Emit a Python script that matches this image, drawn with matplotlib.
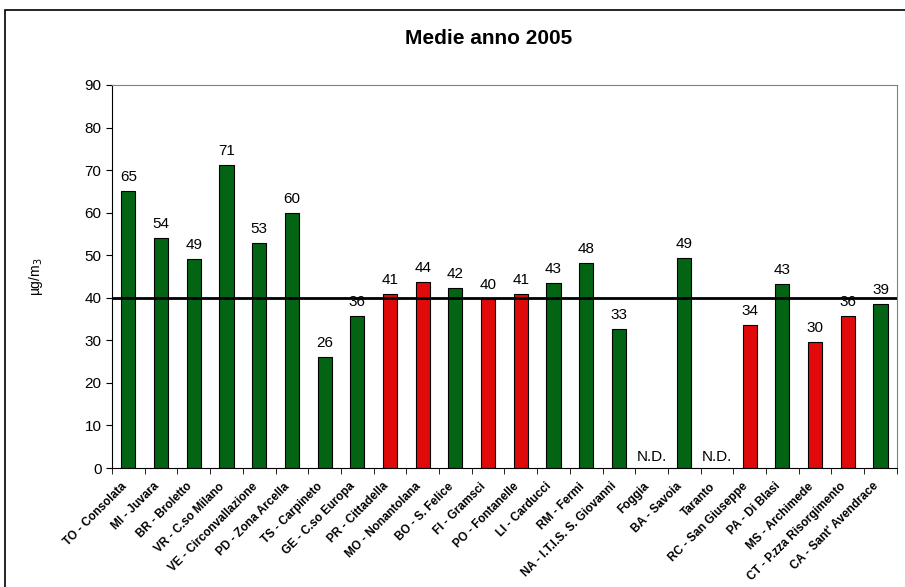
import numpy as np
import matplotlib.pyplot as plt
import matplotlib.transforms as mtransforms
from matplotlib.patches import Rectangle

plt.rcParams['font.family'] = ['Liberation Sans', 'DejaVu Sans']

stazioni = ["TO - Consolata", "MI - Juvara", "BR - Broletto", "VR - C.so Milano",
            "VE - Circonvallazione", "PD - Zona Arcella", "TS - Carpineto",
            "GE - C.so Europa", "PR - Cittadella", "MO - Nonantolana", "BO - S. Felice",
            "FI - Gramsci", "PO - Fontanelle", "LI - Carducci", "RM - Fermi",
            "NA - I.T.I.S. S. Giovanni", "Foggia", "BA - Savoia", "Taranto",
            "RC - San Giuseppe", "PA - Di Blasi", "MS - Archimede",
            "CT - P.zza Risorgimento", "CA - Sant' Avendrace"]
medie = [65.0, 54.0, 49.2, 71.2, 52.8, 60.0, 26.2, 35.7, 40.8, 43.8, 42.2, 39.8,
         41.0, 43.4, 48.2, 32.6, None, 49.3, None, 33.6, 43.2, 29.6, 35.8, 38.6]
etichette = ["65", "54", "49", "71", "53", "60", "26", "36", "41", "44", "42", "40",
             "41", "43", "48", "33", "N.D.", "49", "N.D.", "34", "43", "30", "36", "39"]
rosse = ["PR - Cittadella", "MO - Nonantolana", "FI - Gramsci", "PO - Fontanelle",
         "RC - San Giuseppe", "MS - Archimede", "CT - P.zza Risorgimento"]
limite = 40

verde = '#036414'
rosso = '#E00A0A'

fig = plt.figure(figsize=(9.05, 5.87), dpi=100)
ax = fig.add_axes([0.1238, 0.2027, 0.8672, 0.6525])

x = np.arange(len(stazioni))
for i, (s, v) in enumerate(zip(stazioni, medie)):
    if v is None:
        ax.text(i, 1.0, etichette[i], ha='center', va='bottom', fontsize=11)
        continue
    col = rosso if s in rosse else verde
    ax.bar(i, v, width=0.43, color=col, edgecolor='black', linewidth=0.8, zorder=2)
    ax.annotate(etichette[i], (i, v), xytext=(0, 5), textcoords='offset points',
                ha='center', va='bottom', fontsize=11)

ax.axhline(limite, color='black', linewidth=2, zorder=3)

ax.set_xlim(-0.5, len(stazioni) - 0.5)
ax.set_ylim(0, 90)
ax.set_yticks(range(0, 91, 10))
ax.tick_params(axis='y', labelsize=11, direction='out', length=4)
ax.set_xticks(x)
ax.set_xticklabels(stazioni, rotation=45, ha='right', rotation_mode='anchor',
                   fontsize=8.5, fontweight='bold')
ax.tick_params(axis='x', length=0, pad=6)
ax.set_xticks(np.arange(-0.5, len(stazioni), 1), minor=True)
ax.tick_params(axis='x', which='minor', length=4, direction='out')

# spostamento etichette come nell'originale
sposta = mtransforms.ScaledTranslation(-8 / 100, -4 / 100, fig.dpi_scale_trans)
for lab in ax.get_xticklabels():
    lab.set_transform(lab.get_transform() + sposta)

for side in ['top', 'right']:
    ax.spines[side].set_color('#808080')
for side in ['left', 'bottom']:
    ax.spines[side].set_color('black')

ax.set_ylabel('µg/m$_3$', fontsize=10)
ax.yaxis.set_label_coords(-0.086, 0.5)
fig.text(0.54, 0.935, 'Medie anno 2005', ha='center', va='center',
         fontsize=15, fontweight='bold')

fig.patches.append(Rectangle((5 / 905, -0.1), 1.1, 1.1 - 10 / 587,
                             transform=fig.transFigure, fill=False,
                             edgecolor='black', linewidth=1.2))

fig.savefig('out.png', dpi=100)
